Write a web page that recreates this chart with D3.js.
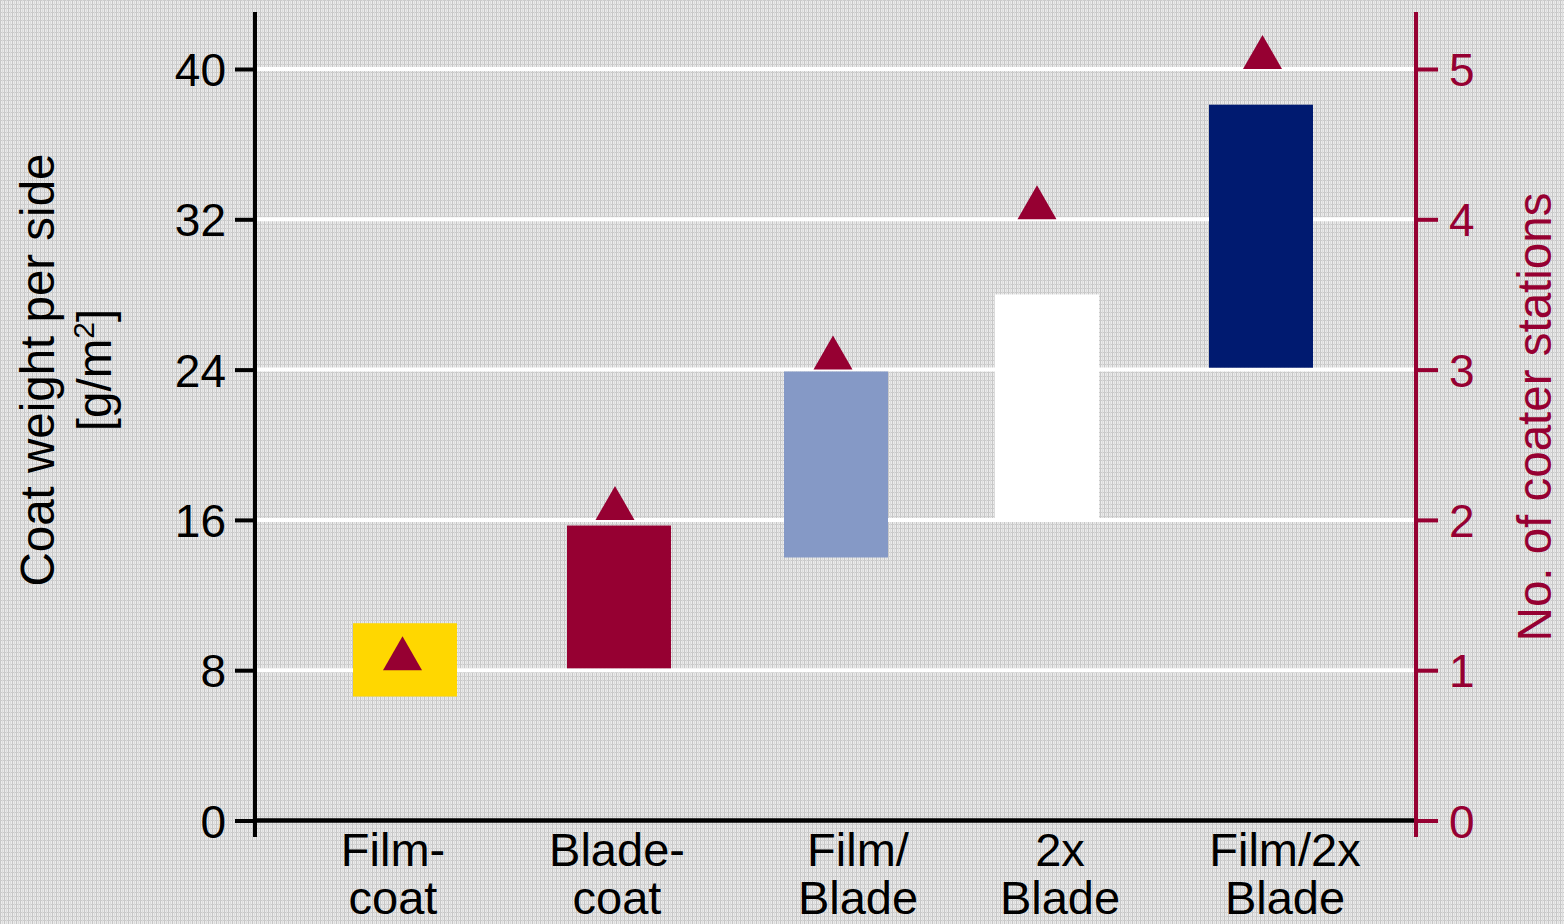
<!DOCTYPE html>
<html>
<head>
<meta charset="utf-8">
<script src="https://cdn.jsdelivr.net/npm/d3@7/dist/d3.min.js"></script>
<style>
  html, body { margin: 0; padding: 0; background: #dcdcdc; }
  svg { display: block; }
  text { font-family: "Liberation Sans", Arial, sans-serif; }
</style>
</head>
<body>
<svg id="chart" width="1564" height="924"></svg>
<script>
// ---- data ----
const categories = ["Film-\ncoat", "Blade-\ncoat", "Film/\nBlade", "2x\nBlade", "Film/2x\nBlade"];
const weightLow  = [6.6, 8.1, 14.0, 16.0, 24.1];
const weightHigh = [10.5, 15.7, 23.9, 28.0, 38.1];
const stations   = [1, 2, 3, 4, 5];
const barColors  = ["#ffd700", "#960032", "#8599c6", "#ffffff", "#001a70"];
const leftTicks  = [0, 8, 16, 24, 32, 40];
const rightTicks = [0, 1, 2, 3, 4, 5];

// ---- layout ----
const W = 1564, H = 924;
const xL = 255, xR = 1416, yTop = 12, yBottom = 837;
const crimson = "#960032";
const labelShift = [-12, -2, 25, 13, 24];
const markShift = [-2.5, -4, 0, -10, 1.5];
const barShift = [0, 0, 3, 0, 0];

const svg = d3.select("#chart");

// textured background
const defs = svg.append("defs");
const pat = defs.append("pattern").attr("id", "tex")
  .attr("width", 4).attr("height", 4).attr("patternUnits", "userSpaceOnUse");
pat.append("rect").attr("width", 4).attr("height", 4).attr("fill", "#ebebeb");
pat.append("rect").attr("x", 0).attr("y", 0).attr("width", 1).attr("height", 4).attr("fill", "#c6c6c6");
pat.append("rect").attr("x", 0).attr("y", 0).attr("width", 4).attr("height", 1).attr("fill", "#cacaca");
pat.append("rect").attr("x", 2).attr("y", 0).attr("width", 1).attr("height", 4).attr("fill", "#dbdbdb");
svg.append("rect").attr("width", W).attr("height", H).attr("fill", "url(#tex)");

// scales
const y = d3.scaleLinear().domain([0, 40]).range([820.5, 69]);
const y2 = d3.scaleLinear().domain([0, 5]).range([820.5, 69]);
const x = d3.scaleBand().domain(categories).range([298, 1368])
  .paddingInner(0.514).paddingOuter(0.257);

// gridlines
svg.append("g").selectAll("line")
  .data(leftTicks.filter(d => d > 0))
  .join("line")
  .attr("x1", xL).attr("x2", xR)
  .attr("y1", d => y(d)).attr("y2", d => y(d))
  .attr("stroke", "#ffffff").attr("stroke-width", 4);

// bars
svg.append("g").selectAll("rect")
  .data(categories)
  .join("rect")
  .attr("x", (d, i) => x(d) + barShift[i])
  .attr("width", x.bandwidth())
  .attr("y", (d, i) => y(weightHigh[i]))
  .attr("height", (d, i) => y(weightLow[i]) - y(weightHigh[i]))
  .attr("fill", (d, i) => barColors[i]);

// triangles (stations)
const triW = 39, triH = 34;
svg.append("g").selectAll("path")
  .data(categories)
  .join("path")
  .attr("d", (d, i) => {
    const cx = x(d) + x.bandwidth() / 2 + markShift[i];
    const by = y2(stations[i]);
    return `M${cx - triW / 2},${by} L${cx + triW / 2},${by} L${cx},${by - triH} Z`;
  })
  .attr("fill", crimson);

// left axis
const leftAxis = svg.append("g").attr("transform", `translate(${xL},0)`)
  .call(d3.axisLeft(y).tickValues(leftTicks).tickSize(20).tickPadding(9).tickFormat(d3.format("d")));
leftAxis.select(".domain").remove();
leftAxis.selectAll(".tick line").attr("stroke", "#000").attr("stroke-width", 4);
leftAxis.selectAll(".tick text").attr("font-size", 46).attr("fill", "#000")
  .attr("font-family", "'Liberation Sans', Arial, sans-serif").attr("dy", "0.36em");

// right axis
const rightAxis = svg.append("g").attr("transform", `translate(${xR},0)`)
  .call(d3.axisRight(y2).tickValues(rightTicks).tickSize(22).tickPadding(11).tickFormat(d3.format("d")));
rightAxis.select(".domain").remove();
rightAxis.selectAll(".tick line").attr("stroke", crimson).attr("stroke-width", 4);
rightAxis.selectAll(".tick text").attr("font-size", 46).attr("fill", crimson)
  .attr("font-family", "'Liberation Sans', Arial, sans-serif").attr("dy", "0.36em");

// axis lines
svg.append("line").attr("x1", xL).attr("x2", xR).attr("y1", y(0)).attr("y2", y(0))
  .attr("stroke", "#000").attr("stroke-width", 4.5);
svg.append("line").attr("x1", xL).attr("x2", xL).attr("y1", yTop).attr("y2", yBottom)
  .attr("stroke", "#000").attr("stroke-width", 4);
svg.append("line").attr("x1", xR).attr("x2", xR).attr("y1", yTop).attr("y2", yBottom)
  .attr("stroke", crimson).attr("stroke-width", 4);

// category labels
const catG = svg.append("g");
categories.forEach((c, i) => {
  const cx = x(c) + x.bandwidth() / 2 + labelShift[i];
  const t = catG.append("text").attr("text-anchor", "middle")
    .attr("font-size", 47).attr("fill", "#000");
  c.split("\n").forEach((line, j) => {
    t.append("tspan").attr("x", cx).attr("y", 866 + j * 48).text(line);
  });
});

// left title
const lt = svg.append("text").attr("transform", "translate(0,370) rotate(-90)")
  .attr("text-anchor", "middle").attr("font-size", 47.5).attr("fill", "#000");
lt.append("tspan").attr("x", 0).attr("y", 54).text("Coat weight per side");
const l2 = lt.append("tspan").attr("x", 0).attr("y", 111);
l2.text("[g/m");
lt.append("tspan").attr("dy", -17).attr("font-size", 30).text("2");
lt.append("tspan").attr("dy", 17).text("]");

// right title
svg.append("text").attr("transform", "translate(1551,417) rotate(-90)")
  .attr("text-anchor", "middle").attr("font-size", 47.5).attr("fill", crimson)
  .text("No. of coater stations");
</script>
</body>
</html>
